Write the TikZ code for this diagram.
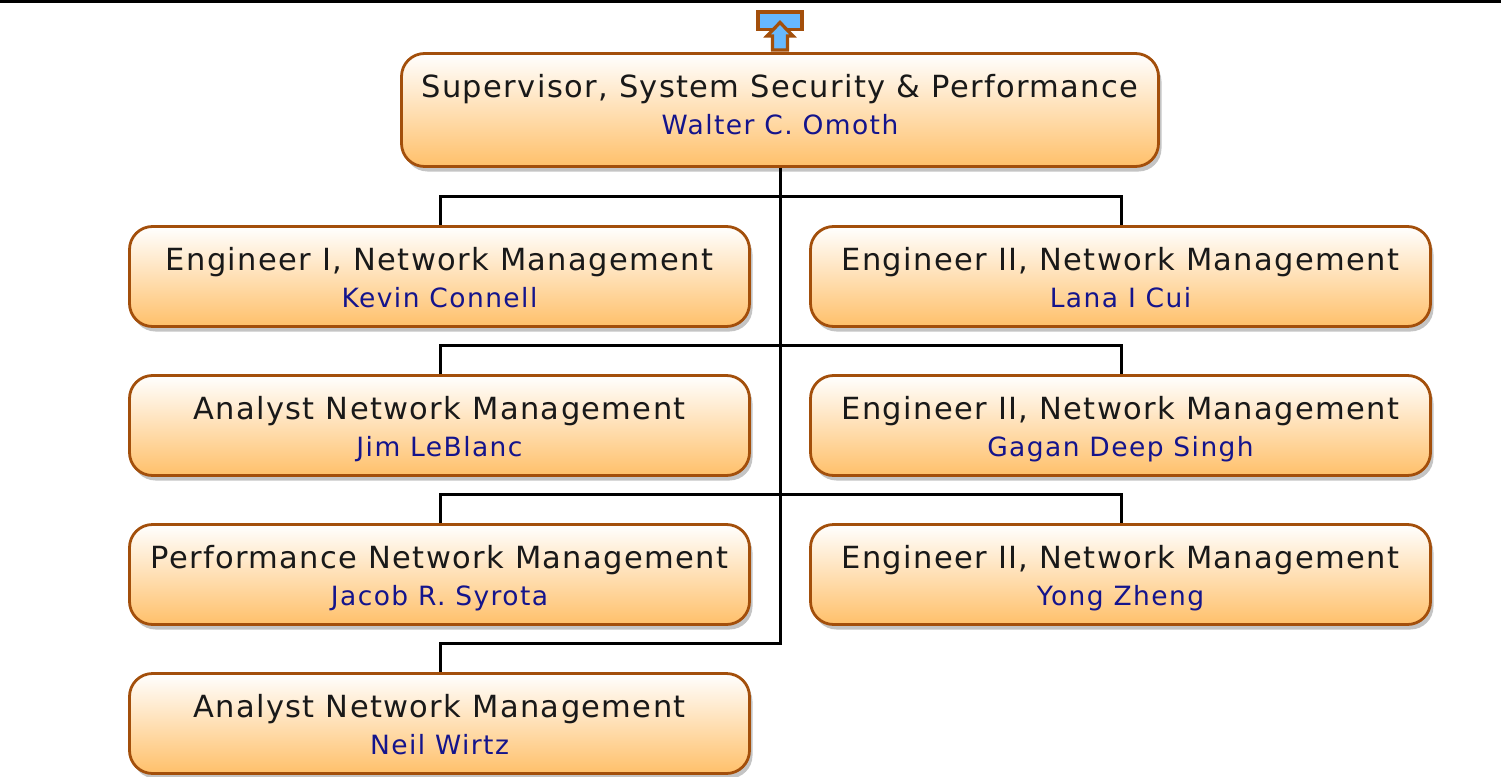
\documentclass[tikz,border=0pt]{standalone}
\usepackage{fontspec}
\setmainfont{DejaVu Sans}
\newfontfamily\titlefam[LetterSpace=4.5]{DejaVu Sans}
\newfontfamily\namefam[LetterSpace=5.4]{DejaVu Sans}
\usetikzlibrary{shadows}
\definecolor{edgebrown}{HTML}{A34F0B}
\definecolor{fillorange}{HTML}{FFC06A}
\definecolor{shadowgray}{HTML}{C4C4C4}
\definecolor{nameblue}{HTML}{14148C}
\definecolor{iconblue}{HTML}{66B8FF}
\tikzset{
  orgbox/.style={draw=edgebrown,line width=2.8pt,rounded corners=23pt,top color=white,bottom color=fillorange,
    general shadow={fill=shadowgray,shadow xshift=3pt,shadow yshift=-5pt},inner sep=0pt},
  smallbox/.style={orgbox,minimum width=620pt,minimum height=100pt},
  topbox/.style={orgbox,minimum width=757pt,minimum height=113pt},
  titletext/.style={font=\titlefam\fontsize{30.5}{32}\selectfont,text=black!90,anchor=base,inner sep=0pt},
  nametext/.style={font=\namefam\fontsize{26.5}{28}\selectfont,text=nameblue,anchor=base,inner sep=0pt},
  link/.style={draw=black,line width=3pt},
  icon/.style={draw=edgebrown,fill=iconblue,line width=3.3pt,line join=miter}
}
\newcommand{\orgunit}[6]{%
  \node[#1] (#2) at (#3,#4) {};
  \node[titletext] (#2t) at ([yshift=-45.5pt]#2.north) {#5};
  \node[nametext] (#2n) at ([yshift=-82pt]#2.north) {#6};
}
\begin{document}
\begin{tikzpicture}[x=1pt,y=-1pt]
\useasboundingbox (0,0) rectangle (1501,776);
\coordinate (ruleL) at (0,1.2);
\coordinate (ruleR) at (1501,1.2);
\draw[line width=3.4pt] (ruleL) -- (ruleR);

\orgunit{topbox}{sup}{780}{110}{Supervisor, System Security \& Performance}{Walter C. Omoth}
\orgunit{smallbox}{a}{439.5}{276.5}{Engineer I, Network Management}{Kevin Connell}
\orgunit{smallbox}{b}{1120.5}{276.5}{Engineer II, Network Management}{Lana I Cui}
\orgunit{smallbox}{c}{439.5}{425.5}{Analyst Network Management}{Jim LeBlanc}
\orgunit{smallbox}{d}{1120.5}{425.5}{Engineer II, Network Management}{Gagan Deep Singh}
\orgunit{smallbox}{e}{439.5}{574.5}{Performance Network Management}{Jacob R. Syrota}
\orgunit{smallbox}{f}{1120.5}{574.5}{Engineer II, Network Management}{Yong Zheng}
\orgunit{smallbox}{g}{439.5}{723.5}{Analyst Network Management}{Neil Wirtz}

\coordinate (busA) at (780,196.5);
\coordinate (busB) at (780,345.5);
\coordinate (busC) at (780,494.5);
\coordinate (busD) at (780,643.5);
\draw[link] (sup.south) -- (busD) -| ([xshift=0.5pt]g.north);
\draw[link] ([xshift=0.5pt]a.north) |- (busA) -| ([xshift=0.5pt]b.north);
\draw[link] ([xshift=0.5pt]c.north) |- (busB) -| ([xshift=0.5pt]d.north);
\draw[link] ([xshift=0.5pt]e.north) |- (busC) -| ([xshift=0.5pt]f.north);

\path[icon] (758,12) rectangle (802,29.5);
\path[icon] (780,22.5) -- (767,36) -- (772.5,36) -- (772.5,50) -- (787.5,50) -- (787.5,36) -- (793,36) -- cycle;
\end{tikzpicture}
\end{document}
